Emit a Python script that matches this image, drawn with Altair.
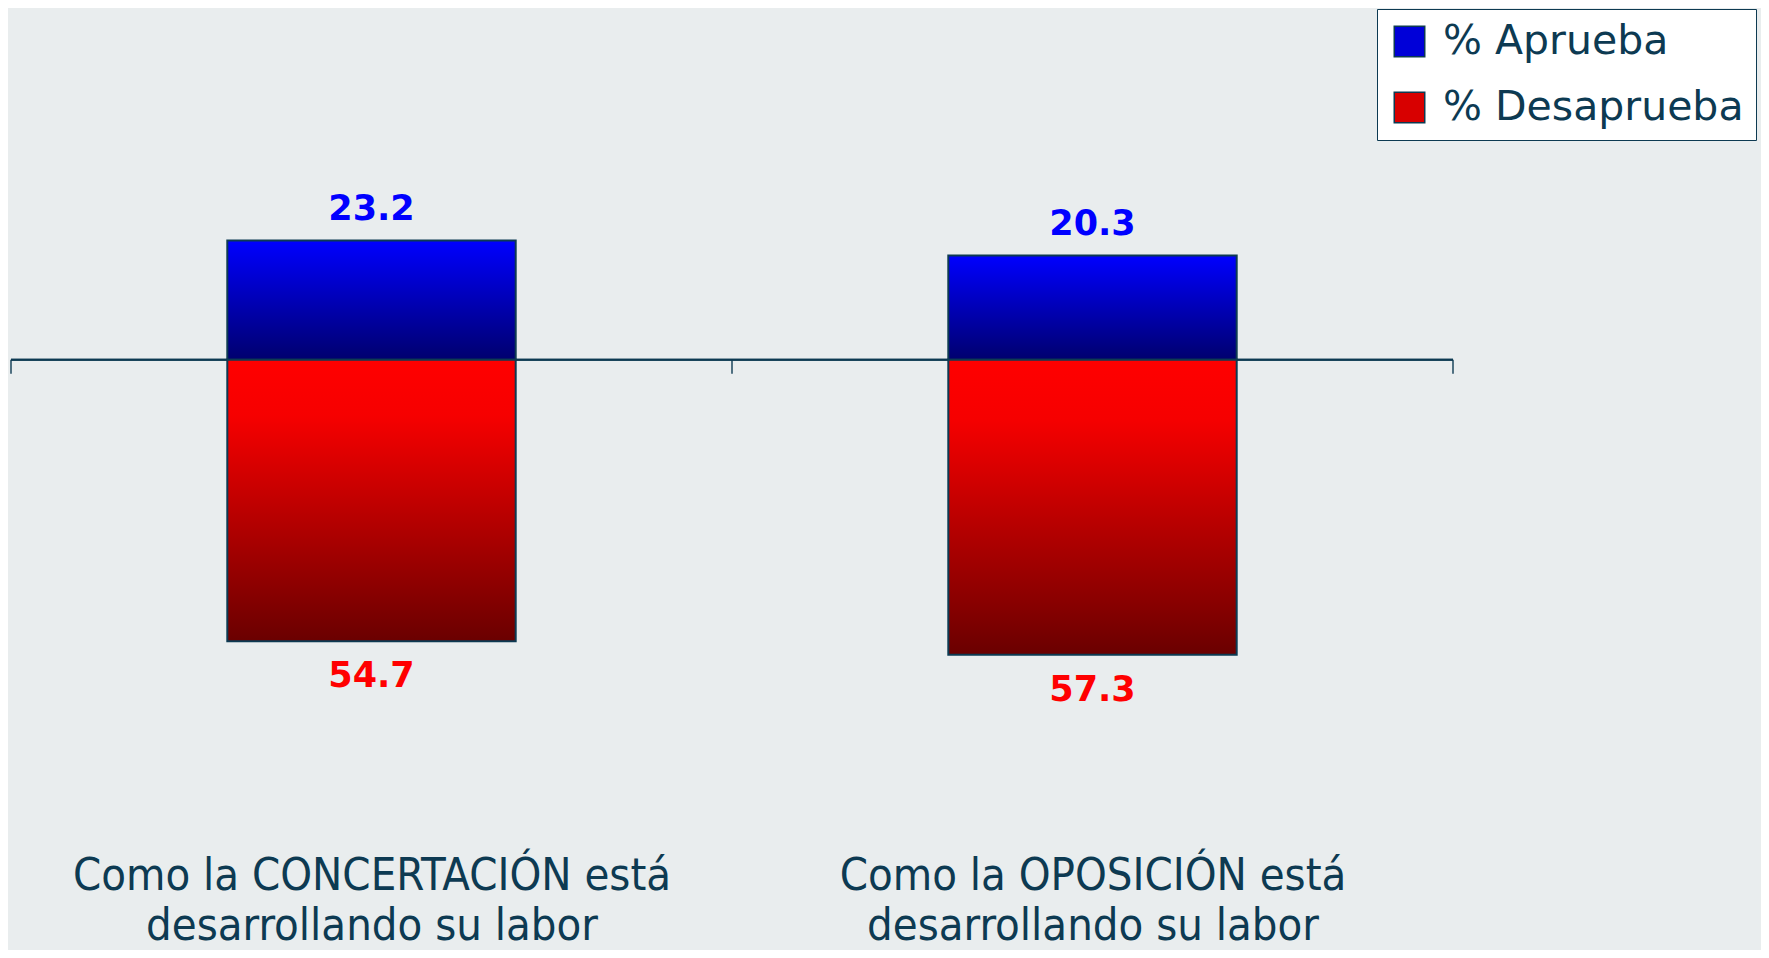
import altair as alt
import pandas as pd

# ---- data ----
cat_line1 = ["Como la CONCERTACIÓN está", "Como la OPOSICIÓN está"]
cat_line2 = ["desarrollando su labor", "desarrollando su labor"]
aprueba = [23.2, 20.3]
desaprueba = [54.7, 57.3]
series = ["% Aprueba", "% Desaprueba"]

DARK = "#0d3a52"
BG = "#e9edee"

n = len(cat_line1)
df = pd.DataFrame({
    "pos": [i + 0.5 for i in range(n)],
    "aprueba": aprueba,
    "desaprueba": desaprueba,
})
df["neg"] = -df["desaprueba"]
df["zero"] = 0.0
df["x0"] = df["pos"] - 0.2
df["x1"] = df["pos"] + 0.2

ticks_df = pd.DataFrame({"b": list(range(n + 1)), "zero": 0.0})
leg_df = pd.DataFrame({"serie": series, "pos": [1.0, 1.0], "zero": [0.0, 0.0]})

label_expr = " : ".join(
    [f"datum.value == {i + 0.5} ? ['{a}', '{b}']" for i, (a, b) in enumerate(zip(cat_line1, cat_line2))]
) + " : ''"

xscale = alt.Scale(domain=[0, n], nice=False, zero=False)
yscale = alt.Scale(domain=[-70, 68], nice=False)

x_axis = alt.Axis(
    values=[i + 0.5 for i in range(n)],
    labelExpr=label_expr,
    ticks=False, domain=False, grid=False, title=None,
    labelFont="DejaVu Sans Condensed, DejaVu Sans, sans-serif",
    labelFontSize=45, labelLineHeight=50, labelColor=DARK,
    labelPadding=133, labelLimit=2000, labelAngle=0,
)

grad_blue = alt.LinearGradient(
    gradient="linear", x1=0, y1=0, x2=0, y2=1,
    stops=[alt.GradientStop(color="#0000ff", offset=0),
           alt.GradientStop(color="#00006e", offset=1)],
)
grad_red = alt.LinearGradient(
    gradient="linear", x1=0, y1=0, x2=0, y2=1,
    stops=[alt.GradientStop(color="#ff0000", offset=0),
           alt.GradientStop(color="#f60000", offset=0.2),
           alt.GradientStop(color="#6a0000", offset=1)],
)

base = alt.Chart(df)

zero_line = base.mark_rule(color=DARK, strokeWidth=2).encode(
    y=alt.Y("zero:Q", scale=yscale, axis=None)
)

ticks = alt.Chart(ticks_df).mark_tick(
    orient="vertical", size=14, thickness=2, color=DARK, yOffset=7
).encode(
    x=alt.X("b:Q", scale=xscale, axis=x_axis),
    y=alt.Y("zero:Q", scale=yscale, axis=None),
)

bars_blue = base.mark_bar(fill=grad_blue, stroke=DARK, strokeWidth=2).encode(
    x=alt.X("x0:Q", scale=xscale, axis=x_axis), x2="x1:Q",
    y=alt.Y("aprueba:Q", scale=yscale, axis=None), y2="zero:Q",
)
bars_red = base.mark_bar(fill=grad_red, stroke=DARK, strokeWidth=2).encode(
    x=alt.X("x0:Q", scale=xscale, axis=x_axis), x2="x1:Q",
    y=alt.Y("neg:Q", scale=yscale, axis=None), y2="zero:Q",
)

txt_blue = base.mark_text(
    color="#0000ff", font="DejaVu Sans", fontWeight="bold", fontSize=35,
    baseline="bottom", dy=-13,
).encode(
    x=alt.X("pos:Q", scale=xscale, axis=x_axis),
    y=alt.Y("aprueba:Q", scale=yscale, axis=None),
    text=alt.Text("aprueba:Q", format=".1f"),
)
txt_red = base.mark_text(
    color="#ff0000", font="DejaVu Sans", fontWeight="bold", fontSize=35,
    baseline="top", dy=18,
).encode(
    x=alt.X("pos:Q", scale=xscale, axis=x_axis),
    y=alt.Y("neg:Q", scale=yscale, axis=None),
    text=alt.Text("desaprueba:Q", format=".1f"),
)

legend_layer = alt.Chart(leg_df).mark_square(opacity=0, size=1).encode(
    x=alt.X("pos:Q", scale=xscale, axis=x_axis),
    y=alt.Y("zero:Q", scale=yscale, axis=None),
    color=alt.Color(
        "serie:N",
        scale=alt.Scale(domain=series, range=["#0000d8", "#d80000"]),
        legend=alt.Legend(
            title=None, orient="none", legendX=1366, legendY=-1,
            fillColor="white", strokeColor=DARK, padding=12,
            symbolType="square", symbolSize=930, symbolOpacity=1,
            symbolStrokeColor=DARK, symbolStrokeWidth=1.5,
            labelFont="DejaVu Sans", labelFontSize=41, labelColor=DARK,
            labelOffset=13, rowPadding=24, labelLimit=1000,
        ),
    ),
)

chart = alt.layer(
    zero_line, ticks, bars_blue, bars_red, txt_blue, txt_red, legend_layer
).properties(
    width=1442, height=710,
    autosize=alt.AutoSizeParams(type="none"),
    padding={"left": 3, "top": 2, "right": 308, "bottom": 230},
    background=BG,
).configure_view(stroke=None)

chart.save("out.html", embed_options={"renderer": "svg", "actions": False})
